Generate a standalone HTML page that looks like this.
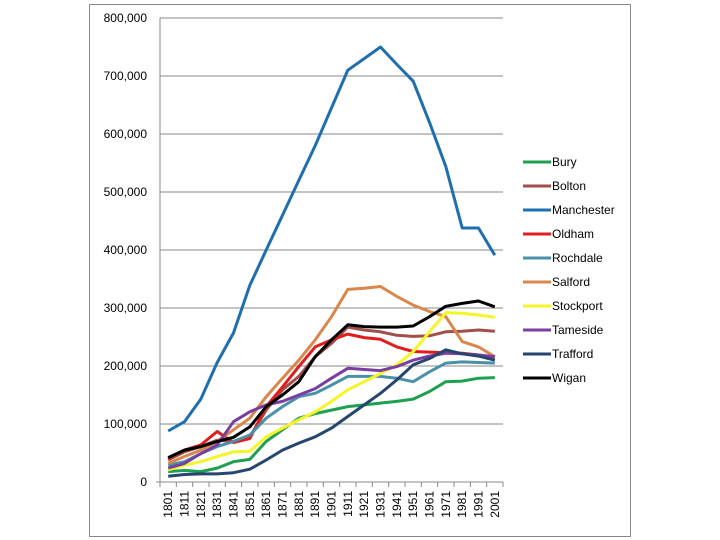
<!DOCTYPE html>
<html><head><meta charset="utf-8"><style>
body{margin:0;background:#fff;}
svg{display:block;font-family:"Liberation Sans",sans-serif;}
</style></head><body>
<svg id="chart" width="720" height="540">
<rect x="89.5" y="4.5" width="541" height="532" fill="#fff" stroke="#888"/>
<g id="grid"></g><g id="series"></g><g id="axes"></g><g id="legend"></g>
</svg>
<script>
const years=["1801","1811","1821","1831","1841","1851","1861","1871","1881","1891","1901","1911","1921","1931","1941","1951","1961","1971","1981","1991","2001"];
const yTicks=[0,100000,200000,300000,400000,500000,600000,700000,800000];
const seriesNames=["Bury","Bolton","Manchester","Oldham","Rochdale","Salford","Stockport","Tameside","Trafford","Wigan"];
const seriesColors=["#1fa050","#a04f4a","#1f6fb0","#e01e1e","#4a90a8","#d9874a","#f5f52a","#7a3ea0","#26466e","#000000"];
const bury=[18,20,18,24,35,39,70,90,110,118,124,130,133,136,139,143,156,173,174,179,180];
const bolton=[38,52,61,72,70,78,124,159,182,216,239,267,262,259,253,251,252,259,260,262,260];
const manchester=[88,104,143,206,257,339,400,460,520,580,645,710,730,750,720,691,620,544,438,438,391];
const oldham=[41,55,64,87,68,75,130,164,199,233,245,255,249,246,233,225,224,223,222,219,215];
const rochdale=[29,35,49,61,70,81,110,130,147,153,167,182,182,182,179,173,190,205,207,206,205];
const salford=[32,44,55,70,90,110,147,179,210,245,285,332,334,337,320,305,294,285,242,233,216];
const stockport=[21,29,35,44,52,53,78,93,107,121,139,159,173,187,202,225,259,292,291,288,284];
const tameside=[24,32,49,64,104,121,133,139,150,161,179,196,194,192,199,210,217,222,221,219,216];
const trafford=[10,13,14,14,16,22,38,55,67,78,93,113,133,153,176,202,213,228,221,217,210];
const wigan=[42,55,61,70,77,95,130,150,173,216,245,271,268,267,267,269,285,303,308,312,302];
const seriesData=[bury,bolton,manchester,oldham,rochdale,salford,stockport,tameside,trafford,wigan];
const NS="http://www.w3.org/2000/svg";
const L=160,R=503,T=18,B=482,YMAX=800000;
const step=(R-L)/years.length;
const xs=i=>L+step*(i+0.5);
const ys=v=>B-(v/YMAX)*(B-T);
function mk(t,a,p){const e=document.createElementNS(NS,t);for(const k in a)e.setAttribute(k,a[k]);p.appendChild(e);return e;}
const grid=document.getElementById('grid'),axes=document.getElementById('axes'),ser=document.getElementById('series'),leg=document.getElementById('legend');
yTicks.forEach(v=>{
  if(v>0){const g=mk('line',{x1:L,x2:R,y1:ys(v),y2:ys(v),stroke:'#888','stroke-width':1},grid);
  
  }
  const t=mk('text',{x:147,y:ys(v)+4,'text-anchor':'end','font-size':12,fill:'#000'},axes);
  t.textContent=v.toLocaleString('en-US');
  
  
});
const ya=mk('line',{x1:L,x2:L,y1:T,y2:B,stroke:'#888'},axes);


const xa=mk('line',{x1:L-4,x2:R,y1:B,y2:B,stroke:'#888'},axes);


for(let i=0;i<=years.length;i++){mk('line',{x1:L+step*i,x2:L+step*i,y1:B,y2:B+5,stroke:'#888'},axes);}
years.forEach((y,i)=>{
  const t=mk('text',{transform:`translate(${xs(i)+4},${B+9}) rotate(-90)`,'text-anchor':'end','font-size':12,fill:'#000'},axes);
  t.textContent=y;
  
  
});
seriesData.forEach((d,s)=>{
  const pts=d.map((v,i)=>xs(i).toFixed(1)+','+ys(v*1000).toFixed(1)).join(' ');
  const pl=mk('polyline',{points:pts,fill:'none',stroke:seriesColors[s],'stroke-width':3,'stroke-linejoin':'round'},ser);
  
  
  const y=162+24*s;
  const g=mk('g',{},leg);
  
  
  mk('line',{x1:523,x2:551,y1:y,y2:y,stroke:seriesColors[s],'stroke-width':3},g);
  const t=mk('text',{x:552,y:y+4,'font-size':12,fill:'#000'},g);
  t.textContent=seriesNames[s];
});
</script>
</body></html>
